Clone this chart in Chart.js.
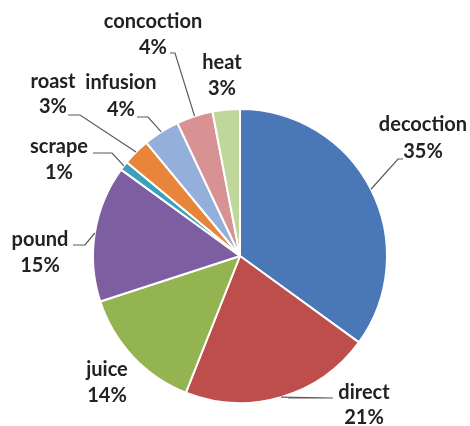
<!DOCTYPE html>
<html>
<head>
<meta charset="utf-8">
<script src="https://cdn.jsdelivr.net/npm/chart.js@4.4.1/dist/chart.umd.min.js"></script>
<style>
  html, body { margin: 0; padding: 0; background: #fff; }
  #wrap { width: 470px; height: 426px; }
</style>
</head>
<body>
<div id="wrap"><canvas id="pie" width="470" height="426"></canvas></div>
<script>
// dados
const metodos = ['decoction', 'direct', 'juice', 'pound', 'scrape', 'roast', 'infusion', 'concoction', 'heat'];
const percentuais = [35, 21, 14, 15, 1, 3, 4, 4, 3];
const cores = ['#4a77b6', '#bd4e4b', '#93b451', '#7d5ea1', '#3d9fba', '#e8853a', '#93afda', '#d99294', '#c0d79c'];

// posicao dos rotulos em px relativos ao centro da pizza: [x texto, y nome, y pct, cotovelo x, cotovelo y, fim linha x]
const rotulos = [
    [183, -131, -104, 158, -97, 163],    // decoction
    [124, 137, 162, 93, 142, 48],        // direct
    [-133, 114, 140, null],              // juice
    [-200, -16, 10, -155, -11, -167],    // pound
    [-181, -109, -83, -128, -103, -147], // scrape
    [-187, -174, -149, -160, -141, -172],// roast
    [-119, -173, -146, -92, -139, -103], // infusion
    [-87, -234, -208, -65, -203, -70],   // concoction
    [-18, -193, -167, null]              // heat
];

const pluginRotulos = {
    id: 'rotulos',
    afterDraw(chart) {
        const ctx = chart.ctx;
        const meta = chart.getDatasetMeta(0);
        ctx.save();
        ctx.font = 'bold 20px Lato, "Liberation Sans", sans-serif';
        ctx.fillStyle = '#222222';
        ctx.textAlign = 'center';
        ctx.textBaseline = 'middle';
        meta.data.forEach((arc, i) => {
            const p = arc.getProps(['x', 'y', 'startAngle', 'endAngle', 'outerRadius'], true);
            const r = rotulos[i];
            const meio = (p.startAngle + p.endAngle) / 2;
            ctx.fillText(metodos[i], p.x + r[0], p.y + r[1]);
            ctx.fillText(percentuais[i] + '%', p.x + r[0], p.y + r[2]);
            if (r[3] !== null) {
                const bx = p.x + Math.cos(meio) * p.outerRadius;
                const by = p.y + Math.sin(meio) * p.outerRadius;
                ctx.beginPath();
                ctx.strokeStyle = '#5a5a5a';
                ctx.lineWidth = 1.2;
                ctx.moveTo(bx, by);
                ctx.lineTo(p.x + r[3], p.y + r[4]);
                ctx.lineTo(p.x + r[5], p.y + r[4]);
                ctx.stroke();
            }
        });
        ctx.restore();
    }
};

new Chart(document.getElementById('pie').getContext('2d'), {
    type: 'pie',
    data: {
        labels: metodos,
        datasets: [{
            data: percentuais,
            backgroundColor: cores,
            borderColor: '#ffffff',
            borderWidth: 2
        }]
    },
    options: {
        responsive: false,
        animation: false,
        layout: { padding: { left: 92, right: 82, top: 108, bottom: 22 } },
        plugins: {
            legend: { display: false },
            tooltip: { enabled: false }
        }
    },
    plugins: [pluginRotulos]
});
</script>
</body>
</html>
